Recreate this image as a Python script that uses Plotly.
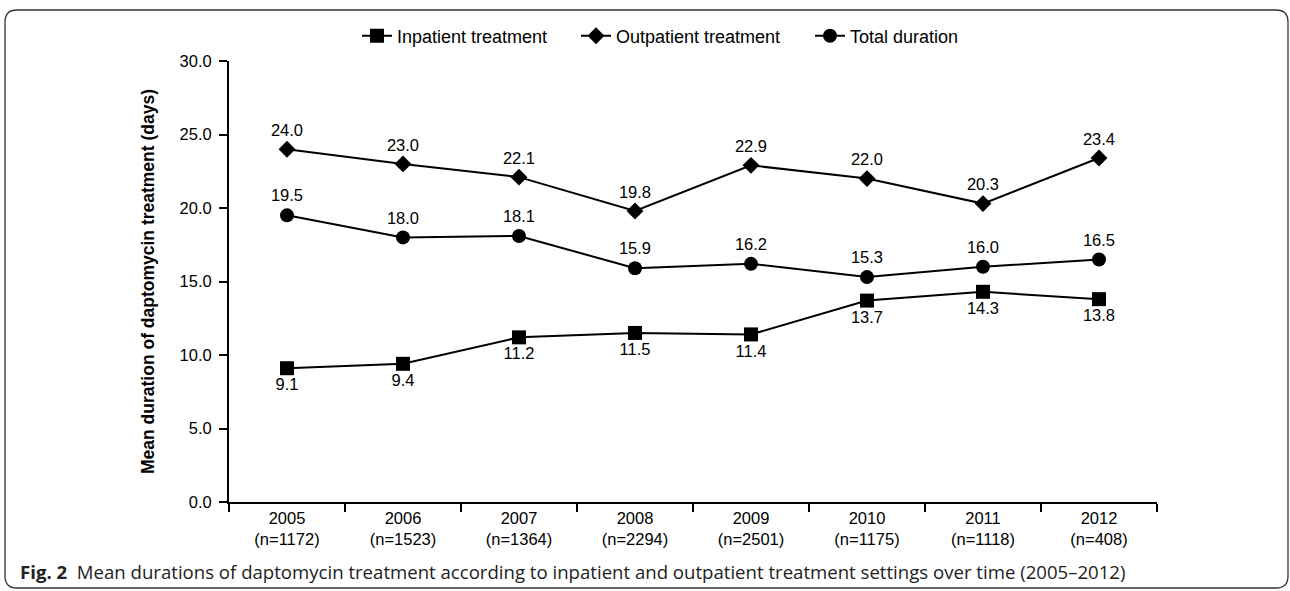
import plotly.graph_objects as go

years = ["2005", "2006", "2007", "2008", "2009", "2010", "2011", "2012"]
counts = ["1172", "1523", "1364", "2294", "2501", "1175", "1118", "408"]
inpatient = [9.1, 9.4, 11.2, 11.5, 11.4, 13.7, 14.3, 13.8]
outpatient = [24.0, 23.0, 22.1, 19.8, 22.9, 22.0, 20.3, 23.4]
total = [19.5, 18.0, 18.1, 15.9, 16.2, 15.3, 16.0, 16.5]

cats = [f"{y}<br>(n={n})" for y, n in zip(years, counts)]

W, H = 1290, 591
L, R, T, B = 229, 1157, 61, 502  # plot area pixel bounds


def px(x):
    return (x - L) / (R - L)


def py(y):
    return (B - y) / (B - T)


FONT = "Liberation Sans, Arial, sans-serif"
fig = go.Figure()

series = [
    ("Inpatient treatment", inpatient, "square", 14, "bottom center", "legend", 357),
    ("Outpatient treatment", outpatient, "diamond", 13, "top center", "legend2", 576),
    ("Total duration", total, "circle", 14, "top center", "legend3", 810),
]
legends = {}
for name, vals, sym, size, tp, lg, lx in series:
    fig.add_trace(go.Scatter(
        x=cats, y=vals, name=name, mode="lines+markers+text",
        line=dict(color="black", width=2),
        marker=dict(symbol=sym, size=size, color="black"),
        text=[f"{v:.1f}" for v in vals], textposition=tp,
        textfont=dict(family=FONT, size=16.5, color="black"),
        cliponaxis=False, legend=lg,
    ))
    legends[lg] = dict(orientation="h", x=px(lx), y=py(36), xanchor="left", yanchor="middle",
                       font=dict(family=FONT, size=18, color="black"),
                       itemwidth=30, bgcolor="rgba(0,0,0,0)")

# rounded frame
x0, x1, y0, y1, r = 5, 1288, 10, 588, 12
path = (f"M {px(x0 + r)},{py(y0)} L {px(x1 - r)},{py(y0)} "
        f"Q {px(x1)},{py(y0)} {px(x1)},{py(y0 + r)} "
        f"L {px(x1)},{py(y1 - r)} Q {px(x1)},{py(y1)} {px(x1 - r)},{py(y1)} "
        f"L {px(x0 + r)},{py(y1)} Q {px(x0)},{py(y1)} {px(x0)},{py(y1 - r)} "
        f"L {px(x0)},{py(y0 + r)} Q {px(x0)},{py(y0)} {px(x0 + r)},{py(y0)} Z")
fig.add_shape(type="path", path=path, xref="paper", yref="paper",
              line=dict(color="#333333", width=1.3))

fig.add_annotation(
    x=px(18), y=py(571), xref="paper", yref="paper", xanchor="left", yanchor="middle",
    showarrow=False,
    text="<b>Fig. 2</b>  Mean durations of daptomycin treatment according to inpatient and outpatient treatment settings over time (2005–2012)",
    font=dict(family="Open Sans, Noto Sans, sans-serif", size=18.6, color="#222222"),
)

fig.update_layout(
    width=W, height=H,
    margin=dict(l=L, r=W - R, t=T, b=H - B, pad=0, autoexpand=False),
    paper_bgcolor="white", plot_bgcolor="white",
    showlegend=True,
    font=dict(family=FONT, color="black"),
    **legends,
)
fig.update_xaxes(
    type="category", range=[-0.5, 7.5], showline=True, linecolor="black", linewidth=2,
    ticks="outside", tickson="boundaries", ticklen=8, tickwidth=2, tickcolor="black",
    tickfont=dict(family=FONT, size=16.5, color="black"), showgrid=False, zeroline=False,
    automargin=False,
)
fig.update_yaxes(
    range=[0, 30], dtick=5, tickformat=".1f", showline=True, linecolor="black", linewidth=2,
    ticks="outside", ticklen=8, tickwidth=2, tickcolor="black", ticklabelstandoff=4,
    tickfont=dict(family=FONT, size=16.5, color="black"), showgrid=False, zeroline=False,
    automargin=False,
    title=dict(text="<b>Mean duration of daptomycin treatment (days)</b>",
               font=dict(family=FONT, size=17.5, color="black"), standoff=20),
)

fig.write_html("out.html")
